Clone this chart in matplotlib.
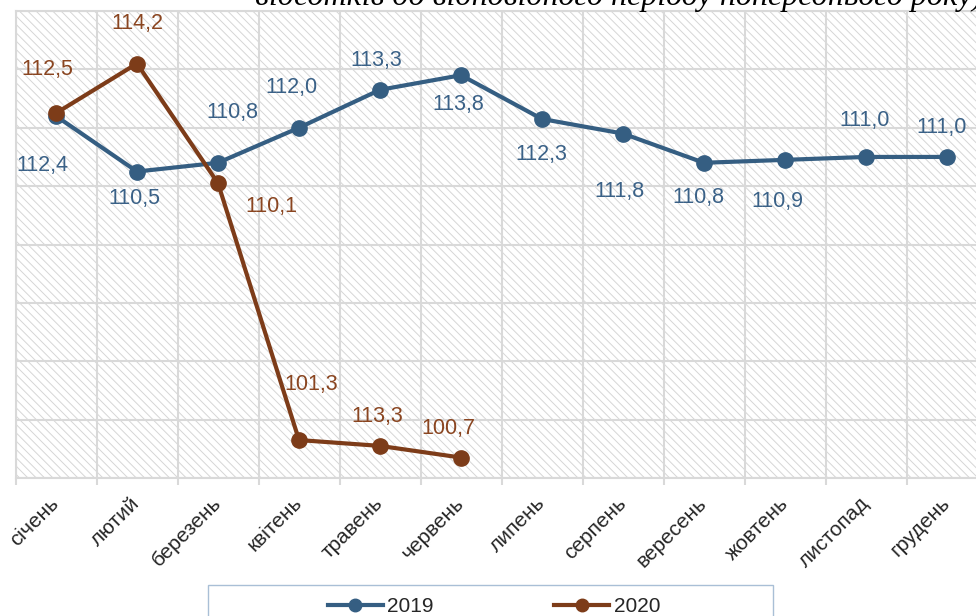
import matplotlib
matplotlib.use('Agg')
import matplotlib.pyplot as plt
from matplotlib.patches import Rectangle
from matplotlib.lines import Line2D

# дані
months = ['січень', 'лютий', 'березень', 'квітень', 'травень', 'червень',
          'липень', 'серпень', 'вересень', 'жовтень', 'листопад', 'грудень']
values_2019 = [112.4, 110.5, 110.8, 112.0, 113.3, 113.8, 112.3, 111.8, 110.8, 110.9, 111.0, 111.0]
values_2020 = [112.5, 114.2, 110.1, 101.3, 101.1, 100.7]
labels_2019 = ['112,4', '110,5', '110,8', '112,0', '113,3', '113,8', '112,3', '111,8', '110,8', '110,9', '111,0', '111,0']
labels_2020 = ['112,5', '114,2', '110,1', '101,3', '113,3', '100,7']
title = 'відсотків до відповідного періоду попереднього року)'

# зсув підписів (пікселі)
off_2019 = [(-14, -49), (-3, -27), (14, 50), (-8, 40), (-4, 29), (-3, -29),
            (-1, -36), (-4, -58), (-6, -35), (-8, -42), (-1, 36), (-5, 29)]
off_2020 = [(-9, 44), (0, 40), (53, -23), (12, 56), (-3, 29), (-13, 29)]

c19 = '#355E82'
c20 = '#7D3C19'
grid_c = '#D9D9D9'

plt.rcParams['font.family'] = ['Liberation Sans', 'DejaVu Sans']
plt.rcParams['hatch.linewidth'] = 0.7

fig = plt.figure(figsize=(9.76, 6.16), dpi=100)
ax = fig.add_axes([15.5 / 976, 1 - 478 / 616, 972 / 976, 467 / 616])

# штрихування фону
ax.add_patch(Rectangle((0, 0), 1, 1, transform=ax.transAxes, facecolor='white',
                       edgecolor='#D6D6D6', hatch='\\\\\\\\', lw=0, zorder=0))

x19 = list(range(len(values_2019)))
x20 = list(range(len(values_2020)))
ax.plot(x19, values_2019, color=c19, lw=3, marker='o', ms=11, zorder=3)
ax.plot(x20, values_2020, color=c20, lw=3, marker='o', ms=11, zorder=4)

for i, (v, t, o) in enumerate(zip(values_2019, labels_2019, off_2019)):
    ax.annotate(t, (i, v), xytext=o, textcoords='offset pixels', ha='center',
                va='center', fontsize=15.5, color='#3A6187', zorder=5)
for i, (v, t, o) in enumerate(zip(values_2020, labels_2020, off_2020)):
    ax.annotate(t, (i, v), xytext=o, textcoords='offset pixels', ha='center',
                va='center', fontsize=15.5, color='#8A4520', zorder=5)

ax.set_xlim(-0.5, 11.5)
ax.set_ylim(100, 116)
ax.set_yticks(range(100, 117, 2))
ax.set_yticklabels([])
ax.tick_params(axis='y', length=0)
ax.set_xticks(x19)
ax.set_xticklabels(months, rotation=45, ha='right', va='center',
                   rotation_mode='anchor', fontsize=15, color='#262626')
ax.set_xticks([i - 0.5 for i in range(13)], minor=True)
ax.tick_params(axis='x', which='major', length=0, pad=16)
ax.tick_params(axis='x', which='minor', length=5, width=1.5, color=grid_c)
ax.grid(axis='y', which='major', color=grid_c, lw=1.5, zorder=1)
ax.grid(axis='x', which='minor', color=grid_c, lw=1.5, zorder=1)
ax.set_axisbelow(True)
for s in ax.spines.values():
    s.set_color(grid_c)
    s.set_linewidth(1.5)

# заголовок (обрізаний зверху, як в оригіналі)
fig.text(255 / 976, 1 - 5 / 616, title, ha='left', va='baseline', fontsize=23,
         style='italic', family='Liberation Serif', color='black')

# легенда
handles = [Line2D([], [], color=c19, lw=3, marker='o', ms=9),
           Line2D([], [], color=c20, lw=3, marker='o', ms=9)]
fig.legend(handles, ['2019', '2020'], loc='center', bbox_to_anchor=(494 / 976, 1 - 607 / 616),
           ncol=2, frameon=False, handlelength=2.64, columnspacing=5.8, fontsize=15,
           handletextpad=0.2, labelcolor='#262626')
fig.patches.append(Rectangle((208 / 976, -0.01), 565 / 976, (616 - 585) / 616 + 0.01,
                             transform=fig.transFigure, fill=False, edgecolor='#A9BFD6', lw=1))

fig.savefig('out.png', dpi=100)
